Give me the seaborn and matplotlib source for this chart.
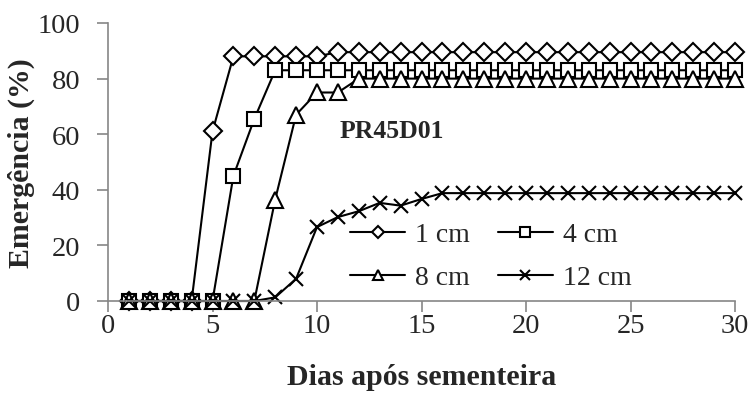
import matplotlib
matplotlib.use("Agg")
import matplotlib.pyplot as plt
import seaborn as sns
import pandas as pd

days = list(range(1, 31))
emerg_1cm = [0, 0, 0, 0, 61, 88, 88, 88, 88, 88] + [89.5] * 20
emerg_4cm = [0, 0, 0, 0, 0, 45, 65.5] + [83] * 23
emerg_8cm = [0, 0, 0, 0, 0, 0, 0, 36.5, 67, 75, 75] + [80] * 19
emerg_12cm = [0, 0, 0, 0, 0, 0, 0, 1.3, 8, 26.6, 30.2, 32.3, 35.3, 34.3, 36.7] + [38.8] * 15

series_labels = ["1 cm", "4 cm", "8 cm", "12 cm"]
series_values = [emerg_1cm, emerg_4cm, emerg_8cm, emerg_12cm]
series_markers = ["D", "s", "^", "x"]
marker_sizes = [9, 10, 11, 10]

sns.set_theme(style="white")
plt.rcParams["font.family"] = ["Liberation Serif", "DejaVu Serif"]

W, H = 749, 406
fig = plt.figure(figsize=(W / 100, H / 100), dpi=100)
ax = fig.add_axes([108 / W, 1 - 302 / H, (735 - 108) / W, (302 - 24) / H])

handles = {}
for label, vals, mk, ms in zip(series_labels, series_values, series_markers, marker_sizes):
    df = pd.DataFrame({"dia": days, "emergencia": vals})
    sns.lineplot(data=df, x="dia", y="emergencia", ax=ax, color="black",
                 linewidth=1.5, marker=mk, markersize=ms,
                 markerfacecolor="white", markeredgecolor="black",
                 markeredgewidth=1.5, label=label, clip_on=False)
    handles[label] = ax.lines[-1]

ax.set_xlim(0, 30)
ax.set_ylim(0, 100)
ax.set_xticks([0, 5, 10, 15, 20, 25, 30])
ax.set_yticks([0, 20, 40, 60, 80, 100])

spine_grey = "#868686"
for side in ["top", "right"]:
    ax.spines[side].set_visible(False)
for side in ["left", "bottom"]:
    ax.spines[side].set_color(spine_grey)
    ax.spines[side].set_linewidth(1.2)

ax.tick_params(axis="x", direction="out", length=8, width=1.2, color=spine_grey,
               labelsize=20.5, pad=1, bottom=True)
ax.tick_params(axis="y", direction="out", length=8, width=1.2, color=spine_grey,
               labelsize=20.5, pad=12, left=True)

ax.set_xlabel("Dias após sementeira", fontsize=21.5, fontweight="bold", labelpad=18)
ax.set_ylabel("Emergência (%)", fontsize=21.5, fontweight="bold", labelpad=2)

ax.text(11.1, 61.3, "PR45D01", fontsize=18.5, fontweight="bold", ha="left", va="center")

# two rows: (1 cm, 4 cm) then (8 cm, 12 cm); legend fills column by column
order = ["1 cm", "8 cm", "4 cm", "12 cm"]
ax.legend([handles[k] for k in order], order, loc="upper left",
          bbox_to_anchor=(350 / W, 1 - 223 / H), bbox_transform=fig.transFigure,
          ncol=2, frameon=False, fontsize=20, handlelength=1.98,
          handletextpad=0.36, columnspacing=1.0, labelspacing=0.63,
          borderpad=0, borderaxespad=0, markerscale=0.7)

fig.savefig("out.png", dpi=100)
